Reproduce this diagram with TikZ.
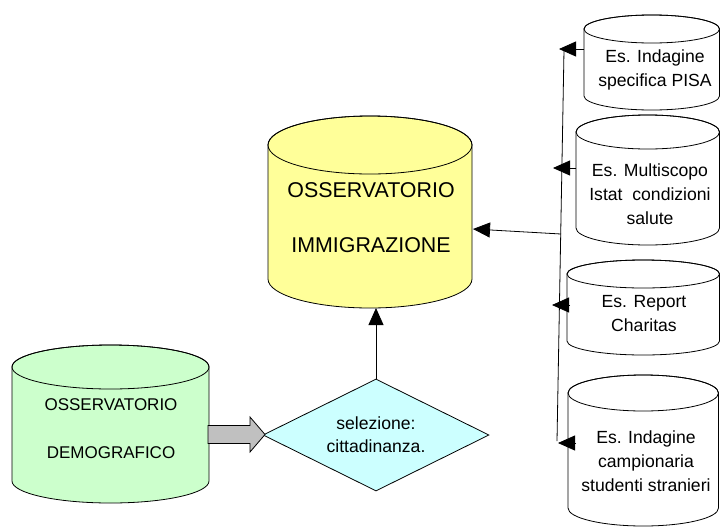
\documentclass[tikz,border=0pt]{standalone}
\usepackage{fontspec}
\setmainfont{Liberation Sans}
\usetikzlibrary{shapes.geometric,arrows.meta}
% #1 left x, #2 right x, #3 top ellipse centre y, #4 bottom ellipse centre y, #5 y radius, #6 fill
\newcommand{\dbcyl}[6]{%
  \pgfmathsetmacro\cylrx{(#2-#1)/2}%
  \pgfmathsetmacro\cylcx{(#1+#2)/2}%
  \filldraw[fill=#6,cylline] (#1,#3) -- (#1,#4)
    arc[start angle=180,end angle=360,x radius=\cylrx pt,y radius=#5pt]
    -- (#2,#3)
    arc[start angle=0,end angle=180,x radius=\cylrx pt,y radius=#5pt] -- cycle;
  \draw[cylline] (\cylcx,#3) ellipse[x radius=\cylrx pt,y radius=#5pt];
}
\definecolor{yfill}{HTML}{FFFF99}
\definecolor{gfill}{HTML}{CCFFCC}
\definecolor{cfill}{HTML}{CCFFFF}
\definecolor{afill}{HTML}{C0C0C0}
\begin{document}
\begin{tikzpicture}[x=1pt,y=-1pt,
  cylline/.style={draw=black,line width=0.8pt},
  lbl/.style={align=center,inner sep=0pt,text=black},
  rtxt/.style={lbl,font=\fontsize{17.6}{24}\selectfont},
  conn/.style={draw=black,line width=0.8pt},
  arr/.style={conn,-{Triangle[length=17pt,width=15pt]}}]
\useasboundingbox (0,0) rectangle (720,528);

% cylinders
\dbcyl{268}{472}{145}{279}{29}{yfill}
\dbcyl{12}{209}{367}{481}{22}{gfill}
\dbcyl{584}{719.5}{29}{96}{14}{white}
\dbcyl{576}{719.5}{132}{228}{17}{white}
\dbcyl{567}{719.5}{274}{341}{14}{white}
\dbcyl{568}{718.5}{393}{508}{18}{white}

% texts
\node[lbl,font=\fontsize{21.4}{55}\selectfont] (immi) at (371,217.5) {OSSERVATORIO\\IMMIGRAZIONE};
\node[lbl,font=\fontsize{17}{48}\selectfont] (demo) at (111,429) {OSSERVATORIO\\DEMOGRAFICO};
\node[rtxt] (pisa) at (655,70) {Es. Indagine\\specifica PISA};
\node[rtxt] (multi) at (650,194) {Es. Multiscopo\\Istat\ \ condizioni\\salute};
\node[rtxt] (report) at (644,314) {Es. Report\\Charitas};
\node[rtxt] (camp) at (646,461) {Es. Indagine\\campionaria\\studenti stranieri};

% diamond
\node[diamond,draw=black,line width=0.8pt,fill=cfill,aspect=2,minimum width=226pt,minimum height=112pt,inner sep=0pt,align=center,font=\fontsize{17.6}{23}\selectfont] (sel) at (376,435) {selezione:\\cittadinanza.};

% grey block arrow
\filldraw[fill=afill,draw=black,line width=0.8pt]
  (208,425.5) -- (250,425.5) -- (250,417) -- (265,434.5) -- (250,452) -- (250,443.5) -- (208,443.5) -- cycle;

% connector coordinates
\coordinate (immiB) at (376,308);
\coordinate (immiE) at (473,229);
\coordinate (junc) at (561,234);
\coordinate (busTop) at (564,50);
\coordinate (busBot) at (557,441);
\coordinate (p1) at (584,49);   \coordinate (t1) at (559,49);
\coordinate (p2) at (576,168);  \coordinate (t2) at (553,168);
\coordinate (p3) at (570,305);  \coordinate (t3) at (552,305);
\coordinate (p4) at (576,443);  \coordinate (t4) at (558,443);

\draw[conn] (busTop) -- (busBot);
\draw[arr] (p1) -- (t1);
\draw[arr] (p2) -- (t2);
\draw[arr] (p3) -- (t3);
\draw[arr] (p4) -- (t4);
\draw[arr] (junc) -- (immiE);
\draw[arr] (sel.north) -- (immiB);
\end{tikzpicture}
\end{document}
